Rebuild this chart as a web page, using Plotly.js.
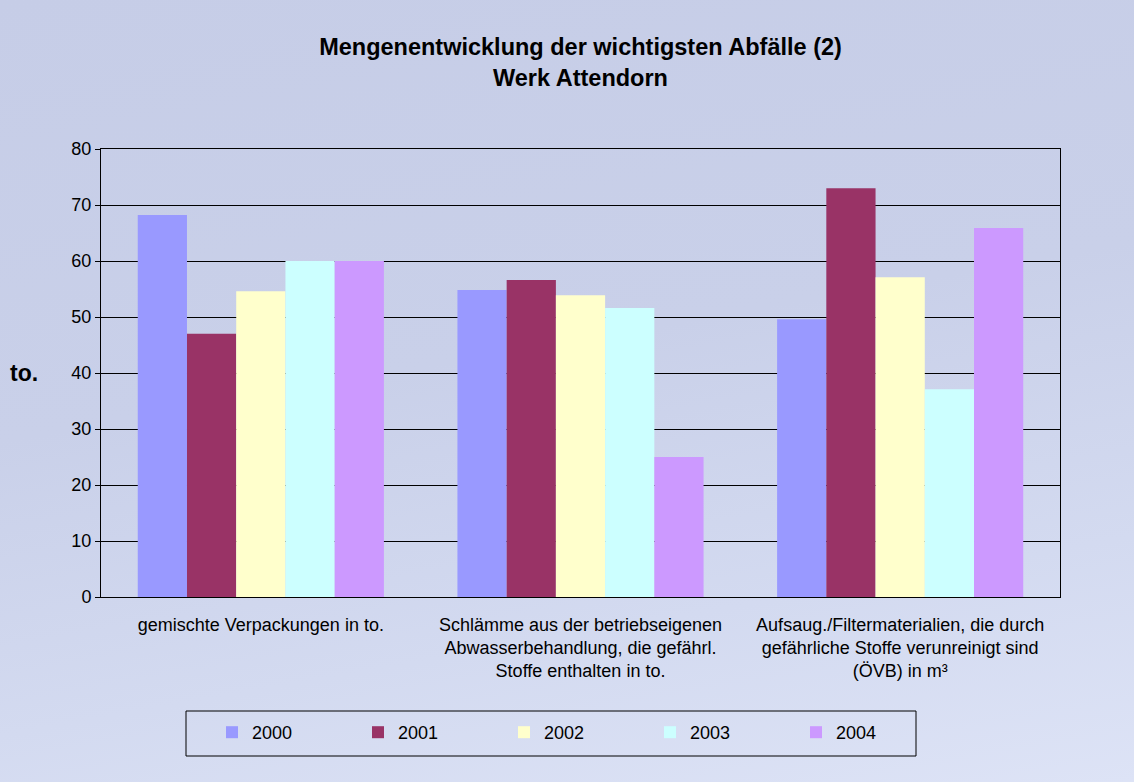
<!DOCTYPE html>
<html><head><meta charset="utf-8">
<script src="https://cdn.plot.ly/plotly-3.0.1.min.js"></script>
<style>
html,body{margin:0;padding:0;}
body{width:1134px;height:782px;background:linear-gradient(170deg,#c6cde7 0%,#c9d0e9 45%,#d3daf0 75%,#dde3f6 100%);}
#chart{width:1134px;height:782px;}
</style></head>
<body><div id="chart"></div>
<script>
const categories = [
  "gemischte Verpackungen in to.",
  "Schlämme aus der betriebseigenen<br>Abwasserbehandlung, die gefährl.<br>Stoffe enthalten in to.",
  "Aufsaug./Filtermaterialien, die durch<br>gefährliche Stoffe verunreinigt sind<br>(ÖVB) in m³"
];
const years = ["2000", "2001", "2002", "2003", "2004"];
const v2000 = [68.2, 54.8, 49.6];
const v2001 = [47.0, 56.6, 73.0];
const v2002 = [54.6, 53.9, 57.1];
const v2003 = [60.0, 51.6, 37.1];
const v2004 = [60.0, 25.0, 65.9];
const series = [v2000, v2001, v2002, v2003, v2004];
const colors = ["#9999FF", "#993366", "#FFFFCC", "#CCFFFF", "#CC99FF"];

const traces = series.map((vals, i) => ({
  type: "bar",
  name: years[i],
  x: categories,
  y: vals,
  marker: {color: colors[i], line: {width: 0}},
  hoverinfo: "x+y"
}));

const font = "Liberation Sans, Arial, sans-serif";
const W = 959, H = 448, L = 101, T = 149;
const px = x => (x - L) / W;
const py = y => (T + H - y) / H;
const layout = {
  width: 1134, height: 782,
  paper_bgcolor: "rgba(0,0,0,0)",
  plot_bgcolor: "rgba(0,0,0,0)",
  margin: {l: 101, r: 74, t: 149, b: 185},
  font: {family: font, size: 18, color: "#000"},
  title: {
    text: "<b>Mengenentwicklung der wichtigsten Abfälle (2)<br>Werk Attendorn</b>",
    font: {family: font, size: 23.5, color: "#000"},
    x: 0.5, xref: "paper", xanchor: "center",
    y: 1 - 55/782, yref: "container", yanchor: "middle"
  },
  barmode: "group",
  bargap: 0.23,
  bargroupgap: 0,
  xaxis: {
    showline: true, linecolor: "#000", linewidth: 1, mirror: true,
    ticks: "", tickfont: {family: font, size: 18, color: "#000"},
    ticklabelstandoff: 11,
    showgrid: false
  },
  yaxis: {
    range: [0, 80], dtick: 10,
    showline: true, linecolor: "#000", linewidth: 1, mirror: true,
    ticks: "outside", ticklen: 5, tickcolor: "#000",
    gridcolor: "#000", gridwidth: 1,
    zeroline: false,
    tickfont: {family: font, size: 18, color: "#000"}
  },
  legend: {
    orientation: "h",
    x: px(212), xanchor: "left",
    y: py(714), yanchor: "top",
    borderwidth: 0,
    bgcolor: "rgba(0,0,0,0)",
    entrywidth: 101, entrywidthmode: "pixels",
    font: {family: font, size: 18, color: "#000"},
    itemwidth: 30,
    traceorder: "normal"
  },
  shapes: [{
    type: "rect", xref: "paper", yref: "paper",
    x0: px(186), x1: px(916), y0: py(711), y1: py(756),
    line: {color: "#000", width: 1}, fillcolor: "rgba(0,0,0,0)"
  }],
  annotations: [{
    text: "<b>to.</b>", xref: "paper", yref: "paper",
    x: px(24), y: py(373), xanchor: "center", yanchor: "middle",
    showarrow: false, font: {family: font, size: 23, color: "#000"}
  }]
};

Plotly.newPlot("chart", traces, layout, {displayModeBar: false, staticPlot: true});
</script>
</body></html>
